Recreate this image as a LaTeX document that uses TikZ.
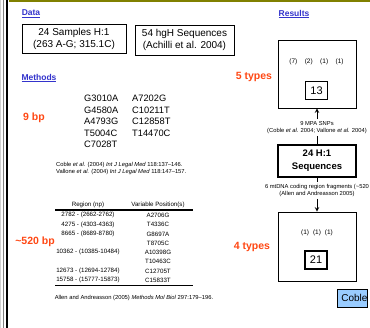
\documentclass[tikz,border=0pt]{standalone}
\usepackage{fontspec}
\setmainfont{Liberation Sans}
\usetikzlibrary{arrows,positioning}
\definecolor{slideolive}{RGB}{128,128,0}
\definecolor{linkblue}{RGB}{51,51,204}
\definecolor{typered}{RGB}{255,72,20}
\definecolor{btnblue}{RGB}{153,204,255}

\begin{document}
\begin{tikzpicture}[x=1pt,y=-1pt,
  heading/.style={font=\fontsize{8.5}{10}\selectfont\bfseries,text=linkblue,inner sep=0pt},
  count/.style={font=\fontsize{10.5}{12}\selectfont\bfseries,text=typered,inner sep=0pt},
  databox/.style={draw,line width=0.9pt,minimum width=104pt,minimum height=29pt,
    align=center,inner sep=0pt,font=\fontsize{10}{12}\selectfont},
  resbox/.style={draw,line width=0.8pt,minimum width=78pt,inner sep=0pt},
  numbox/.style={draw,line width=1.5pt,minimum width=22pt,minimum height=18pt,
    inner sep=0pt,font=\fontsize{11}{12}\selectfont},
  note/.style={font=\fontsize{5.8}{7}\selectfont,align=center,inner sep=2pt},
  snp/.style={font=\fontsize{9.3}{11}\selectfont,anchor=west,inner sep=0pt},
  cell/.style={font=\fontsize{6.2}{7}\selectfont,inner sep=0pt},
  freq/.style={font=\fontsize{6.5}{8}\selectfont,inner sep=0pt}]

  \useasboundingbox (0,0) rectangle (370,328);
  \clip (0,0) rectangle (370,328);
  \fill[white] (0,0) rectangle (370,328);

  % slide frame
  \draw[gray!35] (0.5,0) -- (0.5,328);
  \draw[gray] (3.5,0) -- (3.5,328);
  \draw[line width=2pt] (7,0) -- (7,328);
  \draw[slideolive,line width=2pt] (9,1) -- (370,1);

  % data
  \node[heading] (data) at (31,14) {\underline{Data}};
  \node[databox] (samples) at (74,38.5) {24 Samples H:1\\(263 A-G; 315.1C)};
  \node[databox,minimum width=99pt,minimum height=30pt] (hgh) at (184.5,40)
    {54 hgH Sequences\\(Achilli et al. 2004)};

  % methods
  \node[heading] (methods) at (39,78) {\underline{Methods}};
  \node[count] (ninebp) at (34,118) {9 bp};

  \node[snp] (snpa) at (84,98.5) {G3010A};
  \node[snp] (snpb) at (84,110) {G4580A};
  \node[snp] (snpc) at (84,121.5) {A4793G};
  \node[snp] (snpd) at (84,133) {T5004C};
  \node[snp] (snpe) at (84,144.5) {C7028T};
  \node[snp] (snpf) at (132,98.5) {A7202G};
  \node[snp] (snpg) at (132,110) {C10211T};
  \node[snp] (snph) at (132,121.5) {C12858T};
  \node[snp] (snpi) at (132,133) {T14470C};

  \node[note,anchor=west,align=left,inner sep=0pt] (cite) at (56,168.5)
    {Coble \textit{et al.} (2004) \textit{Int J Legal Med} 118:137–146.\\
     Vallone \textit{et al.} (2004) \textit{Int J Legal Med} 118:147–157.};

  % fragment table
  \node[cell] (reghead) at (88,205) {Region (np)};
  \node[cell] (varhead) at (158,205) {Variable Position(s)};
  \draw[line width=1.5pt] (55,210) -- (193,210);

  \node[cell] (rega) at (88,215) {2782 - (2662-2762)};
  \node[cell] (regb) at (88,224.5) {4275 - (4303-4363)};
  \node[cell] (regc) at (88,234) {8665 - (8689-8780)};
  \node[cell] (regd) at (88,252) {10362 - (10385-10484)};
  \node[cell] (rege) at (88,271) {12673 - (12694-12784)};
  \node[cell] (regf) at (88,280) {15758 - (15777-15873)};

  \node[cell] (vara) at (158,215) {A2706G};
  \node[cell] (varb) at (158,224.5) {T4336C};
  \node[cell] (varc) at (158,234) {G8697A};
  \node[cell] (vard) at (158,243) {T8705C};
  \node[cell] (vare) at (158,252) {A10398G};
  \node[cell] (varf) at (158,261.5) {T10463C};
  \node[cell] (varg) at (158,271) {C12705T};
  \node[cell] (varh) at (158,280) {C15833T};
  \draw[line width=0.8pt] (55,285.5) -- (193,285.5);

  \node[count] (span) at (35,242) {\textasciitilde520 bp};
  \node[note,inner sep=0pt] (allen) at (134,298)
    {Allen and Andreasson (2005) \textit{Methods Mol Biol} 297:179–196.};

  % results
  \node[heading] (results) at (294,14) {\underline{Results}};

  \node[resbox,minimum height=68pt] (fivebox) at (317,74) {};
  \node[freq] (fivefreq) at (316.5,62)
    {(7)\hspace{7.5pt}(2)\hspace{7.5pt}(1)\hspace{7.5pt}(1)};
  \node[numbox] (thirteen) at (316.5,90.5) {13};
  \node[count] (fivetypes) at (254,77) {5 types};

  \node[note] (mpa) at (317,127.5)
    {9 MPA SNPs\\(Coble \textit{et al.} 2004; Vallone \textit{et al.} 2004)};

  \node[resbox,line width=1.6pt,minimum height=32pt,align=center,
    font=\fontsize{9.5}{13}\selectfont\bfseries] (hone) at (317,161) {24 H:1\\Sequences};

  \node[note] (frag) at (317,190.5)
    {6 mtDNA coding region fragments (\textasciitilde520\\(Allen and Andreasson 2005)};

  \node[resbox,minimum height=69pt] (fourbox) at (317,246.5) {};
  \node[freq] (fourfreq) at (317,233) {(1)\hspace{4pt}(1)\hspace{4pt}(1)};
  \node[numbox] (twentyone) at (316,260) {21};
  \node[count] (fourtypes) at (252,247) {4 types};

  \draw[line width=1pt] (hone.north) -- (mpa.south);
  \draw[->,>=stealth,line width=1pt] (mpa.north) -- (fivebox.south);
  \draw[line width=1pt] (hone.south) -- (frag.north);
  \draw[->,>=stealth,line width=1pt] (frag.south) -- (fourbox.north);

  \node[draw,fill=btnblue,line width=0.8pt,anchor=north west,minimum height=18pt,
    inner sep=0pt,font=\fontsize{10}{12}\selectfont] (coble) at (337,289)
    {\hspace{4pt}Coble\hspace{10pt}};
\end{tikzpicture}
\end{document}
